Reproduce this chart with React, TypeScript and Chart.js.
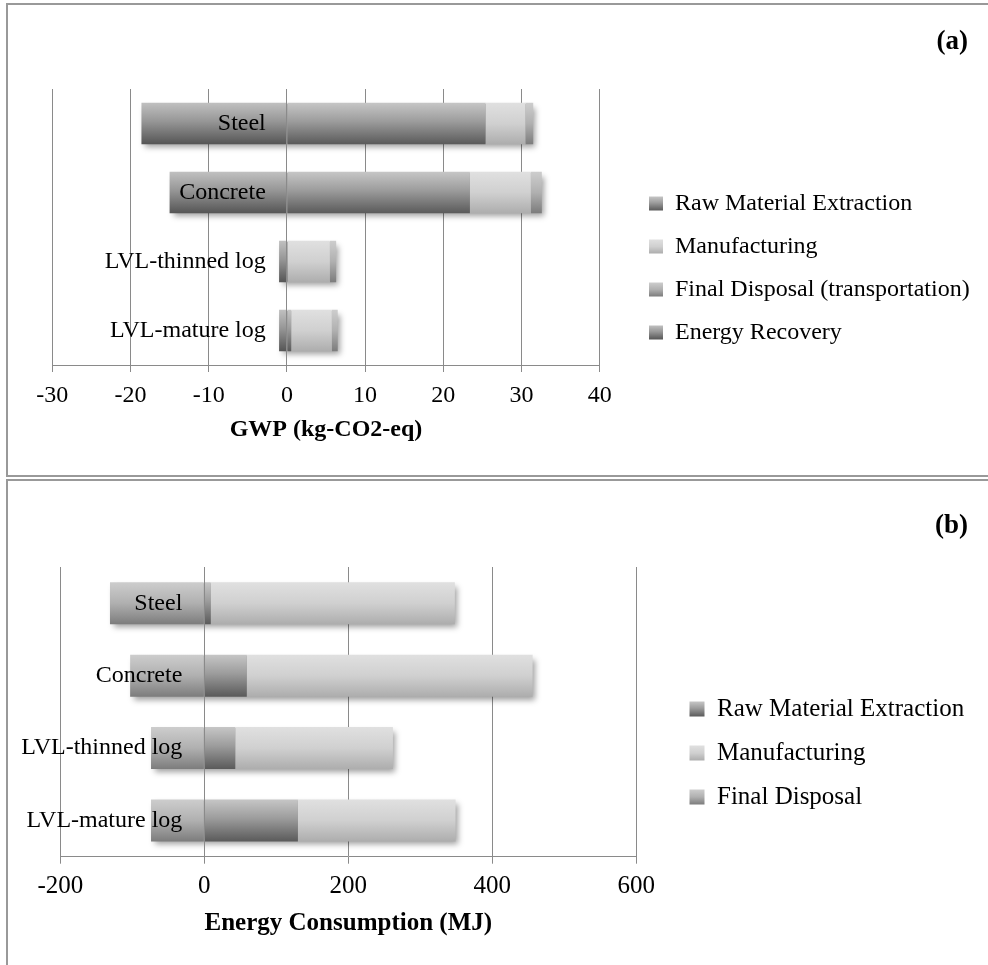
import React, { useEffect, useRef } from 'react';
import { Chart, registerables } from 'chart.js';

Chart.register(...registerables);

// ---------- data ----------
const categories = ['Steel', 'Concrete', 'LVL-thinned log', 'LVL-mature log'];

// Panel (a) GWP (kg-CO2-eq)
const gwpRawMaterial = [25.4, 23.4, 0.1, 0.55];
const gwpManufacturing = [5.1, 7.8, 5.4, 5.2];
const gwpFinalDisposal = [1.0, 1.4, 0.8, 0.75];
const gwpEnergyRecovery = [-18.6, -15.0, -1.0, -1.0];
const gwpTicks = [-30, -20, -10, 0, 10, 20, 30, 40];

// Panel (b) Energy Consumption (MJ)
const energyRawMaterial = [9, 59, 43, 130];
const energyManufacturing = [339, 397, 219, 219];
const energyFinalDisposal = [-131, -103, -74, -74];
const energyTicks = [-200, 0, 200, 400, 600];

const SERIF = "'Liberation Serif', 'Times New Roman', serif";

type Stops = [number, string][];

function barFill(stops: Stops, flat: string, pct: number) {
  return (c: any) => {
    const chart = c.chart;
    const area = chart.chartArea;
    const ys = chart.scales && chart.scales.y;
    if (c.type !== 'data' || !area || !ys) return flat;
    const n = chart.data.labels.length;
    const yc = ys.getPixelForValue(c.dataIndex);
    const h = ((area.bottom - area.top) / n) * pct;
    const g = chart.ctx.createLinearGradient(0, yc - h / 2, 0, yc + h / 2);
    stops.forEach(([o, col]) => g.addColorStop(o, col));
    return g;
  };
}

const stackShadow = {
  id: 'stackShadow',
  afterUpdate(chart: any) {
    // gradient legend swatches, placed where the legend puts its boxes
    const lg = chart.legend;
    if (!lg || !lg.legendItems || !lg.legendHitBoxes) return;
    const lo = lg.options.labels;
    const fs = lo.font.size;
    const bh = lo.boxHeight;
    lg.legendItems.forEach((it: any, i: number) => {
      const hb = lg.legendHitBoxes[i];
      const ds = chart.data.datasets[it.datasetIndex];
      if (!hb || !ds || !ds._stops) return;
      const top = hb.top + Math.max((fs - bh) / 2, 0);
      const g = chart.ctx.createLinearGradient(0, top, 0, top + bh);
      ds._stops.forEach(([o, col]: [number, string]) => g.addColorStop(o, col));
      it.fillStyle = g;
    });
  },
  beforeDatasetsDraw(chart: any) {
    const ctx = chart.ctx;
    const metas = chart.getSortedVisibleDatasetMetas();
    const n = chart.data.labels.length;
    ctx.save();
    ctx.shadowColor = 'rgba(0,0,0,0.38)';
    ctx.shadowBlur = 6;
    ctx.shadowOffsetX = 3;
    ctx.shadowOffsetY = 4;
    ctx.fillStyle = '#9a9a9a';
    for (let i = 0; i < n; i++) {
      let l = Infinity;
      let r = -Infinity;
      let t = 0;
      let h = 0;
      metas.forEach((m: any) => {
        const el = m.data[i];
        if (!el) return;
        const p = el.getProps(['x', 'y', 'base', 'height'], true);
        l = Math.min(l, p.x, p.base);
        r = Math.max(r, p.x, p.base);
        t = p.y - p.height / 2;
        h = p.height;
      });
      if (r > l) ctx.fillRect(l + 1, t + 1, r - l - 2, h - 2);
    }
    ctx.restore();
  },
};

interface PanelCfg {
  datasets: any[];
  ticks: number[];
  title: string;
  tickFont: number;
  catFont: number;
  legendFont: number;
  pct: number;
  canvasW: number;
  chartRight: number;
  padding: { left: number; top: number; bottom: number };
  xHeight: number;
  tickPad: number;
  titlePadBottom: number;
  spacer: number;
  labelGapValue: number;
  legendPad: number;
  boxSize: number;
}

function measureMax(texts: string[], size: number): number {
  const c = document.createElement('canvas');
  const ctx = c.getContext('2d')!;
  ctx.font = `normal ${size}px ${SERIF}`;
  return Math.max(...texts.map((t) => ctx.measureText(t).width));
}

function makeConfig(p: PanelCfg): any {
  const font = (size: number, weight: any = 'normal') => ({ family: SERIF, size, weight });
  const textW = measureMax(p.datasets.map((d) => d.label), p.legendFont);
  const legendNatural = p.legendPad + p.boxSize + p.legendFont / 2 + textW + 10;
  const padRight = p.canvasW - p.chartRight - p.spacer - legendNatural;
  return {
    type: 'bar',
    data: { labels: categories, datasets: p.datasets },
    options: {
      indexAxis: 'y',
      animation: false,
      responsive: false,
      devicePixelRatio: 1,
      events: [],
      layout: { padding: { ...p.padding, right: padRight } },
      datasets: { bar: { categoryPercentage: 1, barPercentage: p.pct, borderWidth: 0 } },
      scales: {
        x: {
          stacked: true,
          min: p.ticks[0],
          max: p.ticks[p.ticks.length - 1],
          ticks: {
            stepSize: p.ticks[1] - p.ticks[0],
            font: font(p.tickFont),
            color: '#000',
            padding: p.tickPad,
          },
          grid: { color: '#8a8a8a', lineWidth: 1, tickLength: 7, drawTicks: true },
          border: { color: '#8a8a8a', width: 1 },
          title: {
            display: true,
            text: p.title,
            color: '#000',
            font: font(p.tickFont, 'bold'),
            padding: { top: 0, bottom: p.titlePadBottom },
          },
          afterFit: (s: any) => {
            s.height = p.xHeight;
          },
        },
        // vertical axis line at value 0, drawn over the bars
        y: {
          stacked: true,
          position: { x: 0 },
          grid: { display: false, drawTicks: false },
          border: { display: true, color: '#8a8a8a', width: 1, z: 1 },
          ticks: { display: false },
        },
        // category names, right-aligned just left of the 0 line
        yNames: {
          type: 'category',
          axis: 'y',
          position: { x: p.labelGapValue },
          grid: { display: false, drawTicks: false },
          border: { display: false },
          ticks: { z: 1, padding: 0, font: font(p.catFont), color: '#000' },
        },
        spacer: {
          type: 'category',
          axis: 'y',
          position: 'right',
          display: true,
          grid: { display: false, drawTicks: false },
          border: { display: false },
          ticks: { display: false },
          afterFit: (s: any) => {
            s.width = p.spacer;
          },
        },
      },
      plugins: {
        legend: {
          position: 'right',
          align: 'center',
          maxWidth: legendNatural + 3,
          labels: {
            boxWidth: p.boxSize,
            boxHeight: p.boxSize,
            padding: p.legendPad,
            color: '#000',
            font: font(p.legendFont),
          },
        },
        tooltip: { enabled: false },
      },
    },
    plugins: [stackShadow],
  };
}

const RAW_STOPS: Stops = [[0, '#c6c6c6'], [0.45, '#9c9c9c'], [1, '#5a5a5a']];
const MAN_STOPS: Stops = [[0, '#e0e0e0'], [0.5, '#d0d0d0'], [1, '#adadad']];
const FIN_STOPS: Stops = [[0, '#cdcdcd'], [0.5, '#b0b0b0'], [1, '#7c7c7c']];
const REC_STOPS: Stops = [[0, '#c0c0c0'], [0.45, '#969696'], [1, '#555555']];

function ds(label: string, data: number[], stops: Stops, flat: string, pct: number) {
  return { label, data, xAxisID: 'x', yAxisID: 'y', backgroundColor: barFill(stops, flat, pct), _stops: stops };
}

function gwpDatasets(pct: number) {
  return [
    ds('Raw Material Extraction', gwpRawMaterial, RAW_STOPS, '#8a8a8a', pct),
    ds('Manufacturing', gwpManufacturing, MAN_STOPS, '#cfcfcf', pct),
    ds('Final Disposal (transportation)', gwpFinalDisposal, FIN_STOPS, '#a8a8a8', pct),
    ds('Energy Recovery', gwpEnergyRecovery, REC_STOPS, '#7e7e7e', pct),
  ];
}

function energyDatasets(pct: number) {
  return [
    ds('Raw Material Extraction', energyRawMaterial, RAW_STOPS, '#8a8a8a', pct),
    ds('Manufacturing', energyManufacturing, MAN_STOPS, '#cfcfcf', pct),
    ds('Final Disposal', energyFinalDisposal, FIN_STOPS, '#a8a8a8', pct),
  ];
}

export default function App() {
  const refA = useRef<HTMLCanvasElement | null>(null);
  const refB = useRef<HTMLCanvasElement | null>(null);

  useEffect(() => {
    const charts: Chart[] = [];
    if (refA.current) {
      charts.push(
        new Chart(
          refA.current,
          makeConfig({
            datasets: gwpDatasets(0.6),
            ticks: gwpTicks,
            title: 'GWP (kg-CO2-eq)',
            tickFont: 24,
            catFont: 24,
            legendFont: 24,
            pct: 0.6,
            canvasW: 979,
            chartRight: 590.7,
            padding: { left: 43.3, top: 83, bottom: 27 },
            xHeight: 82,
            tickPad: 9,
            titlePadBottom: 3,
            spacer: 30.3,
            labelGapValue: -2.7,
            legendPad: 19,
            boxSize: 14,
          })
        )
      );
    }
    if (refB.current) {
      charts.push(
        new Chart(
          refB.current,
          makeConfig({
            datasets: energyDatasets(0.58),
            ticks: energyTicks,
            title: 'Energy Consumption (MJ)',
            tickFont: 25,
            catFont: 24,
            legendFont: 25,
            pct: 0.58,
            canvasW: 979,
            chartRight: 627.3,
            padding: { left: 51.3, top: 85, bottom: 26 },
            xHeight: 82.3,
            tickPad: 8,
            titlePadBottom: 0,
            spacer: 34.2,
            labelGapValue: -30.5,
            legendPad: 19,
            boxSize: 15,
          })
        )
      );
    }
    return () => charts.forEach((c) => c.destroy());
  }, []);

  const panelLabel: React.CSSProperties = {
    position: 'absolute',
    right: 20,
    fontFamily: SERIF,
    fontWeight: 'bold',
    fontSize: 27,
    lineHeight: '30px',
    color: '#000',
  };

  return (
    <div style={{ position: 'absolute', left: 0, top: 0, width: 988, height: 965, overflow: 'hidden', background: '#fff' }}>
      <div style={{ position: 'absolute', left: 6, top: 3, width: 1100, height: 474, boxSizing: 'border-box', border: '2px solid #999' }} />
      <div style={{ position: 'absolute', left: 6, top: 479, width: 1100, height: 600, boxSizing: 'border-box', border: '2px solid #999' }} />
      <canvas ref={refA} width={979} height={468} style={{ position: 'absolute', left: 9, top: 6, width: 979, height: 468 }} />
      <canvas ref={refB} width={979} height={483} style={{ position: 'absolute', left: 9, top: 482, width: 979, height: 483 }} />
      <div style={{ ...panelLabel, top: 25 }}>(a)</div>
      <div style={{ ...panelLabel, top: 509 }}>(b)</div>
    </div>
  );
}
